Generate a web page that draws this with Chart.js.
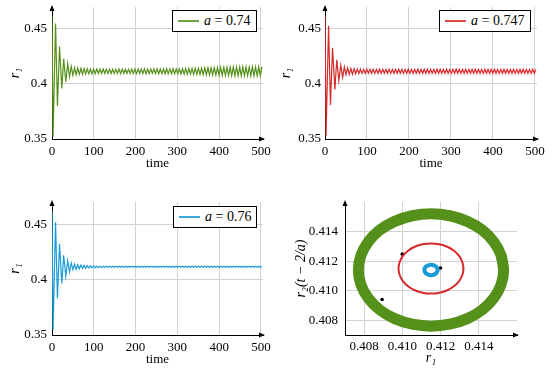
<!DOCTYPE html>
<html>
<head>
<meta charset="utf-8">
<script src="https://cdn.jsdelivr.net/npm/chart.js@4/dist/chart.umd.min.js"></script>
<style>
  body { margin:0; background:#fff; width:552px; height:370px; position:relative; overflow:hidden; }
  canvas { position:absolute; }
  .lg { position:absolute; height:22px; box-sizing:border-box; border:1px solid #000; background:#fff;
        display:flex; align-items:center; padding-left:5px; font:14px "Liberation Serif", serif; white-space:nowrap; }
  .sw { display:inline-block; width:21px; height:2px; margin-right:5px; opacity:0.85; }
</style>
</head>
<body>
<canvas id="c1" width="276" height="185" style="left:0;top:0"></canvas>
<canvas id="c2" width="276" height="185" style="left:276px;top:0"></canvas>
<canvas id="c3" width="276" height="185" style="left:0;top:185px"></canvas>
<canvas id="c4" width="276" height="185" style="left:276px;top:185px"></canvas>
<div class="lg" style="left:172px;top:10px;width:85px"><span class="sw" style="background:#55901a"></span><i>a</i>&nbsp;=&nbsp;0.74</div>
<div class="lg" style="left:439px;top:10px;width:92px"><span class="sw" style="background:#d62a2a"></span><i>a</i>&nbsp;=&nbsp;0.747</div>
<div class="lg" style="left:173px;top:206px;width:84px"><span class="sw" style="background:#1a9bd7"></span><i>a</i>&nbsp;=&nbsp;0.76</div>
<script>
// time samples (peaks / troughs)
var timeT = [0,2.5,8.5,13,18,23.5,28,33,37.5,42,46,50,
  54,57.8,61.6,65.4,69.2,73,76.8,80.6,84.4,88.2,
  92,95.8,99.6,103.4,107.2,111,114.8,118.6,122.4,126.2,
  130,133.8,137.6,141.4,145.2,149,152.8,156.6,160.4,164.2,
  168,171.8,175.6,179.4,183.2,187,190.8,194.6,198.4,202.2,
  206,209.8,213.6,217.4,221.2,225,228.8,232.6,236.4,240.2,
  244,247.8,251.6,255.4,259.2,263,266.8,270.6,274.4,278.2,
  282,285.8,289.6,293.4,297.2,301,304.8,308.6,312.4,316.2,
  320,323.8,327.6,331.4,335.2,339,342.8,346.6,350.4,354.2,
  358,361.8,365.6,369.4,373.2,377,380.8,384.6,388.4,392.2,
  396,399.8,403.6,407.4,411.2,415,418.8,422.6,426.4,430.2,
  434,437.8,441.6,445.4,449.2,453,456.8,460.6,464.4,468.2,
  472,475.8,479.6,483.4,487.2,491,494.8,498.6,502.4]

// r1 for a = 0.74
var r1Green = [0.462,0.352,0.455,0.380,0.434,0.396,0.423,0.402,0.4186,0.4066,0.416,0.408,
  0.4148,0.4084,0.4145,0.4087,0.4142,0.4089,0.4140,0.4091,0.4138,0.4092,
  0.4137,0.4093,0.4136,0.4094,0.4135,0.4095,0.4136,0.4094,0.4135,0.4095,
  0.4134,0.4096,0.4135,0.4095,0.4134,0.4096,0.4135,0.4095,0.4136,0.4094,
  0.4135,0.4095,0.4134,0.4096,0.4135,0.4095,0.4136,0.4094,0.4136,0.4094,
  0.4135,0.4095,0.4136,0.4094,0.4137,0.4093,0.4136,0.4094,0.4135,0.4095,
  0.4136,0.4094,0.4137,0.4093,0.4136,0.4094,0.4137,0.4093,0.4138,0.4092,
  0.4137,0.4093,0.4138,0.4092,0.4137,0.4093,0.4138,0.4092,0.4139,0.4091,
  0.4140,0.4090,0.4141,0.4089,0.4142,0.4088,0.4143,0.4087,0.4144,0.4086,
  0.4145,0.4085,0.4146,0.4084,0.4147,0.4083,0.4148,0.4082,0.4149,0.4081,
  0.4150,0.4080,0.4151,0.4079,0.4152,0.4078,0.4153,0.4077,0.4154,0.4076,
  0.4155,0.4075,0.4155,0.4075,0.4156,0.4074,0.4156,0.4074,0.4155,0.4075,
  0.4154,0.4076,0.4155,0.4075,0.4156,0.4074,0.4156,0.4074,
  0.4155]

// r1 for a = 0.747
var r1Red = [0.462,0.353,0.453,0.381,0.433,0.395,0.422,0.403,0.417,0.406,0.4155,0.4085,
  0.4145,0.4087,0.4141,0.4090,0.4138,0.4093,0.4136,0.4095,0.4134,0.4096,
  0.4133,0.4097,0.4134,0.4097,0.4133,0.4097,0.4133,0.4096,0.4133,0.4097,
  0.4134,0.4097,0.4133,0.4097,0.4133,0.4097,0.4134,0.4096,0.4133,0.4097,
  0.4133,0.4097,0.4134,0.4097,0.4133,0.4096,0.4133,0.4097,0.4134,0.4097,
  0.4133,0.4097,0.4133,0.4097,0.4134,0.4096,0.4133,0.4097,0.4133,0.4097,
  0.4134,0.4097,0.4133,0.4097,0.4133,0.4096,0.4134,0.4097,0.4133,0.4097,
  0.4133,0.4097,0.4134,0.4097,0.4133,0.4096,0.4133,0.4097,0.4134,0.4097,
  0.4133,0.4097,0.4133,0.4097,0.4134,0.4096,0.4133,0.4097,0.4133,0.4097,
  0.4134,0.4097,0.4133,0.4097,0.4133,0.4096,0.4134,0.4097,0.4133,0.4097,
  0.4133,0.4097,0.4134,0.4097,0.4133,0.4096,0.4133,0.4097,0.4134,0.4097,
  0.4133,0.4097,0.4133,0.4097,0.4134,0.4096,0.4133,0.4097,0.4133,0.4097,
  0.4134,0.4097,0.4133,0.4097,0.4133,0.4096,0.4134,0.4097,
  0.4133]

// r1 for a = 0.76
var r1Blue = [0.462,0.3545,0.452,0.383,0.432,0.3966,0.422,0.403,0.417,0.407,0.415,0.409,
  0.4138,0.4093,0.4134,0.4097,0.4131,0.4100,0.4128,0.4102,0.4126,0.4104,
  0.4124,0.4106,0.4123,0.4107,0.4122,0.4108,0.4121,0.4109,0.4120,0.4110,
  0.4120,0.4111,0.4120,0.4111,0.4120,0.4111,0.4120,0.4111,0.4120,0.4111,
  0.4120,0.4111,0.4120,0.4111,0.4120,0.4111,0.4120,0.4111,0.4120,0.4111,
  0.4120,0.4111,0.4120,0.4111,0.4120,0.4111,0.4120,0.4111,0.4120,0.4111,
  0.4120,0.4111,0.4120,0.4111,0.4120,0.4111,0.4120,0.4111,0.4120,0.4111,
  0.4120,0.4111,0.4120,0.4111,0.4120,0.4111,0.4120,0.4111,0.4120,0.4111,
  0.4120,0.4111,0.4120,0.4111,0.4120,0.4111,0.4120,0.4111,0.4120,0.4111,
  0.4120,0.4111,0.4120,0.4111,0.4120,0.4111,0.4120,0.4111,0.4120,0.4111,
  0.4120,0.4111,0.4120,0.4111,0.4120,0.4111,0.4120,0.4111,0.4120,0.4111,
  0.4120,0.4111,0.4120,0.4111,0.4120,0.4111,0.4120,0.4111,0.4120,0.4111,
  0.4120,0.4111,0.4120,0.4111,0.4120,0.4111,0.4120,0.4111,
  0.4120]

var timeTicks = [0, 100, 200, 300, 400, 500]
var r1Ticks = [0.35, 0.4, 0.45]
var r1TickLabels = ['0.35', '0.4', '0.45']

// phase portrait r1 vs r2(t - 2/a)
var greenLoopX = [0.4153,0.41517,0.41479,0.41419,0.4134,0.41248,0.4115,0.41052,0.4096,0.40881,0.40821,0.40783,
  0.4077,0.40783,0.40821,0.40881,0.4096,0.41052,0.4115,0.41248,0.4134,0.41419,0.41479,0.41517,0.4153,0.41517]
var greenLoopY = [0.4114,0.41238,0.4133,0.41409,0.41469,0.41507,0.4152,0.41507,0.41469,0.41409,0.4133,0.41238,
  0.4114,0.41042,0.4095,0.40871,0.40811,0.40773,0.4076,0.40773,0.40811,0.40871,0.4095,0.41042,0.4114,0.41238]
var redLoopX = [0.4132,0.41314,0.41297,0.4127,0.41235,0.41194,0.4115,0.41106,0.41065,0.4103,0.41003,0.40986,
  0.4098,0.40986,0.41003,0.4103,0.41065,0.41106,0.4115,0.41194,0.41235,0.4127,0.41297,0.41314,0.4132,0.41314]
var redLoopY = [0.4115,0.41194,0.41235,0.4127,0.41297,0.41314,0.4132,0.41314,0.41297,0.4127,0.41235,0.41194,
  0.4115,0.41106,0.41065,0.4103,0.41003,0.40986,0.4098,0.40986,0.41003,0.4103,0.41065,0.41106,0.4115,0.41194]
var blueLoopX = [0.41185,0.4118,0.41168,0.4115,0.41133,0.4112,0.41115,0.4112,0.41133,0.4115,0.41168,0.4118,0.41185,0.4118]
var blueLoopY = [0.4114,0.41158,0.4117,0.41175,0.4117,0.41158,0.4114,0.41123,0.4111,0.41105,0.4111,0.41123,0.4114,0.41158]
var endX = [0.40894, 0.4100, 0.4120]
var endY = [0.4094, 0.41247, 0.41153]
var phaseTicks = [0.408, 0.410, 0.412, 0.414]
var phaseTickLabels = ['0.408', '0.410', '0.412', '0.414']

var gridColor = '#d2d2d2'
var serif = '"Liberation Serif", "Times New Roman", serif'
var tickFont = { family: serif, size: 13 }
Chart.defaults.font.family = serif
Chart.defaults.font.size = 13
Chart.defaults.color = '#000'

// little arrow heads at the axis ends
var axisArrows = {
  id: 'axisArrows',
  afterDraw: function(chart) {
    var ctx = chart.ctx, a = chart.chartArea
    ctx.save()
    ctx.fillStyle = '#000'
    ctx.beginPath()
    ctx.moveTo(a.left, a.top - 2)
    ctx.lineTo(a.left - 2.5, a.top + 4)
    ctx.lineTo(a.left + 2.5, a.top + 4)
    ctx.fill()
    ctx.beginPath()
    ctx.moveTo(a.right + 2, a.bottom)
    ctx.lineTo(a.right - 4, a.bottom - 2.5)
    ctx.lineTo(a.right - 4, a.bottom + 2.5)
    ctx.fill()
    ctx.restore()
  }
}

function pts(xs, ys) {
  return xs.map(function(x, i) { return {x: x, y: ys[i]} })
}

function timePlot(id, vals, color, b) {
  new Chart(document.getElementById(id), {
    type: 'line',
    data: { datasets: [{ data: pts(timeT, vals), borderColor: color, borderWidth: 1.2, pointRadius: 0, fill: false }] },
    options: {
      responsive: false, animation: false, devicePixelRatio: 1,
      layout: { padding: { top: b.top, right: b.right, left: 0, bottom: 0 } },
      plugins: { legend: { display: false }, tooltip: { enabled: false } },
      scales: {
        x: {
          type: 'linear', min: 0, max: 505,
          afterBuildTicks: function(s) { s.ticks = timeTicks.map(function(v) { return {value: v} }) },
          afterFit: function(s) { s.height = b.xh; s.paddingLeft = 0; s.paddingRight = 0 },
          ticks: { font: tickFont, padding: 5, maxRotation: 0, autoSkip: false, callback: function(v) { return String(v) } },
          grid: { color: gridColor, drawTicks: false },
          border: { color: '#000', width: 1 },
          title: { display: true, text: 'time', font: { family: serif, size: 13 }, padding: { top: 0, bottom: b.tp } }
        },
        y: {
          min: 0.35, max: 0.47,
          afterBuildTicks: function(s) { s.ticks = r1Ticks.map(function(v) { return {value: v} }) },
          afterFit: function(s) { s.width = b.yw; s.paddingTop = 0; s.paddingBottom = 0 },
          ticks: { font: tickFont, padding: b.lp, autoSkip: false, callback: function(v, i) { return r1TickLabels[i] } },
          grid: { color: gridColor, drawTicks: false },
          border: { color: '#000', width: 1 },
          title: { display: true, text: 'r\u2081', font: { family: serif, size: 14, style: 'italic' }, padding: { top: b.yp, bottom: 0 } }
        }
      }
    },
    plugins: [axisArrows]
  })
}

timePlot('c1', r1Green, '#55901a', { top: 7, right: 13, xh: 46, yw: 52, tp: 14, lp: 5, yp: 7 })
timePlot('c2', r1Red, '#d62a2a', { top: 7, right: 15, xh: 46, yw: 49, tp: 14, lp: 4, yp: 2 })
timePlot('c3', r1Blue, '#1a9bd7', { top: 17, right: 13, xh: 35, yw: 52, tp: 3, lp: 5, yp: 7 })

new Chart(document.getElementById('c4'), {
  type: 'scatter',
  data: {
    datasets: [
      { data: pts(greenLoopX, greenLoopY), showLine: true, borderColor: '#55901a', borderWidth: 11, borderJoinStyle: 'round', borderCapStyle: 'round', tension: 0.3, pointRadius: 0 },
      { data: pts(redLoopX, redLoopY), showLine: true, borderColor: '#d62a2a', borderWidth: 2, borderJoinStyle: 'round', tension: 0.3, pointRadius: 0 },
      { data: pts(blueLoopX, blueLoopY), showLine: true, borderColor: '#1a9bd7', borderWidth: 4, borderJoinStyle: 'round', tension: 0.3, pointRadius: 0 },
      { data: pts(endX, endY), showLine: false, pointRadius: 1.8, pointBackgroundColor: '#000', pointBorderWidth: 0 }
    ]
  },
  options: {
    responsive: false, animation: false, devicePixelRatio: 1,
    layout: { padding: { top: 17, right: 35, left: 0, bottom: 0 } },
    plugins: { legend: { display: false }, tooltip: { enabled: false } },
    scales: {
      x: {
        type: 'linear', min: 0.407, max: 0.416,
        afterBuildTicks: function(s) { s.ticks = phaseTicks.map(function(v) { return {value: v} }) },
        afterFit: function(s) { s.height = 35; s.paddingLeft = 0; s.paddingRight = 0 },
        ticks: { font: tickFont, padding: 4, maxRotation: 0, autoSkip: false, callback: function(v, i) { return phaseTickLabels[i] } },
        grid: { color: gridColor, drawTicks: false },
        border: { color: '#000', width: 1 },
        title: { display: true, text: 'r\u2081', font: { family: serif, size: 14, style: 'italic' }, padding: { top: 0, bottom: 3 } }
      },
      y: {
        type: 'linear', min: 0.407, max: 0.416,
        afterBuildTicks: function(s) { s.ticks = phaseTicks.map(function(v) { return {value: v} }) },
        afterFit: function(s) { s.width = 69; s.paddingTop = 0; s.paddingBottom = 0 },
        ticks: { font: tickFont, padding: 7, autoSkip: false, callback: function(v, i) { return phaseTickLabels[i] } },
        grid: { color: gridColor, drawTicks: false },
        border: { color: '#000', width: 1 },
        title: { display: true, text: 'r\u2082(t \u2212 2/a)', font: { family: serif, size: 14, style: 'italic' }, padding: { top: 17, bottom: 0 } }
      }
    }
  },
  plugins: [axisArrows]
})
</script>
</body>
</html>
